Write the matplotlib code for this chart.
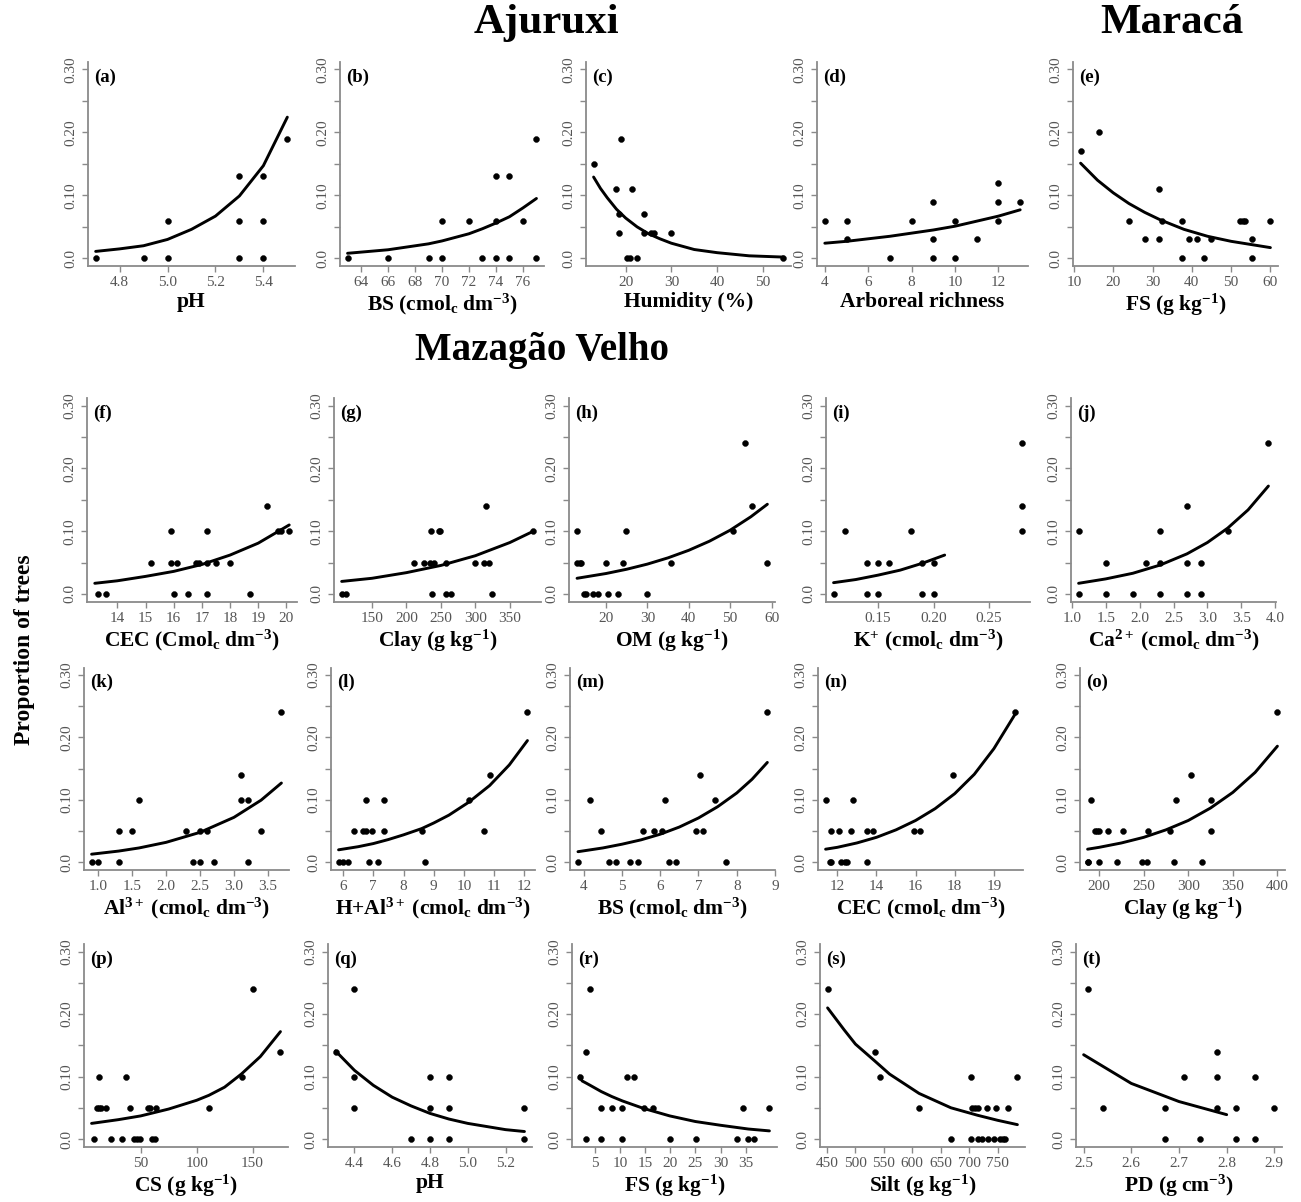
import matplotlib
matplotlib.use('Agg')
import matplotlib.pyplot as plt

plt.rcParams['font.family'] = ['Liberation Serif', 'DejaVu Serif']
plt.rcParams['mathtext.fontset'] = 'custom'
plt.rcParams['mathtext.rm'] = 'Liberation Serif'
plt.rcParams['mathtext.bf'] = 'Liberation Serif:bold'
plt.rcParams['mathtext.it'] = 'Liberation Serif:italic'
plt.rcParams['mathtext.default'] = 'bf'

# ---------------- data ----------------
a_x = [4.7, 4.9, 5.0, 5.0, 5.3, 5.3, 5.3, 5.4, 5.4, 5.4, 5.5]
a_y = [0, 0, 0, 0.06, 0, 0.06, 0.13, 0, 0.06, 0.13, 0.19]
a_cx = [4.7, 4.8, 4.9, 5.0, 5.1, 5.2, 5.3, 5.4, 5.5]
a_cy = [0.011, 0.015, 0.020, 0.030, 0.046, 0.067, 0.099, 0.147, 0.224]

b_x = [63, 66, 69, 70, 70, 72, 73, 74, 74, 74, 75, 75, 76, 77, 77]
b_y = [0, 0, 0, 0, 0.06, 0.06, 0, 0, 0.06, 0.13, 0, 0.13, 0.06, 0, 0.19]
b_cx = [63, 66, 69, 70, 72, 73, 74, 75, 76, 77]
b_cy = [0.008, 0.0136, 0.023, 0.0276, 0.039, 0.047, 0.056, 0.066, 0.080, 0.095]

c_x = [13, 18, 18.5, 18.5, 19, 20.4, 20.9, 21.5, 22.5, 24, 24, 25.6, 26.1, 30, 54.5]
c_y = [0.15, 0.11, 0.07, 0.04, 0.19, 0, 0, 0.11, 0, 0.07, 0.04, 0.04, 0.04, 0.04, 0]
c_cx = [13, 14.5, 16, 18, 20, 22.5, 25, 27.5, 30, 35, 40, 47, 54.5]
c_cy = [0.129, 0.111, 0.096, 0.078, 0.064, 0.050, 0.039, 0.031, 0.024, 0.014, 0.009, 0.004, 0.002]

d_x = [4, 5, 5, 7, 8, 9, 9, 9, 10, 10, 11, 12, 12, 12, 13]
d_y = [0.06, 0.06, 0.03, 0, 0.06, 0.09, 0.03, 0, 0.06, 0, 0.03, 0.12, 0.09, 0.06, 0.09]
d_cx = [4, 5, 7, 8, 9, 10, 11, 12, 13]
d_cy = [0.024, 0.027, 0.035, 0.040, 0.045, 0.051, 0.059, 0.067, 0.077]

e_x = [11.7, 16.4, 24, 28, 31.6, 31.6, 32.5, 37.4, 37.4, 39.2, 41.2, 43.1, 45, 52.2, 53.1, 53.5, 55.3, 55.3, 60]
e_y = [0.17, 0.20, 0.06, 0.03, 0.11, 0.03, 0.06, 0.06, 0, 0.03, 0.03, 0, 0.03, 0.06, 0.06, 0.06, 0.03, 0, 0.06]
e_cx = [11.7, 16, 20, 24, 28, 32, 38, 44, 50, 56, 60]
e_cy = [0.151, 0.124, 0.104, 0.087, 0.073, 0.061, 0.046, 0.035, 0.027, 0.021, 0.017]

f_x = [13.3, 13.6, 15.2, 15.9, 15.9, 16.1, 16.0, 16.5, 16.8, 16.9, 17.2, 17.2, 17.2, 17.5, 18.0, 18.7, 19.3, 19.7, 19.8, 20.1]
f_y = [0, 0, 0.05, 0.10, 0.05, 0.05, 0, 0, 0.05, 0.05, 0.10, 0.05, 0, 0.05, 0.05, 0, 0.14, 0.10, 0.10, 0.10]
f_cx = [13.2, 14, 15, 16, 17, 18, 19, 20.1]
f_cy = [0.017, 0.021, 0.028, 0.036, 0.047, 0.062, 0.081, 0.110]

g_x = [106, 113, 211, 225, 234, 235, 237, 240, 247, 249, 258, 258, 265, 300, 313, 316, 319, 324, 384]
g_y = [0, 0, 0.05, 0.05, 0.05, 0.10, 0, 0.05, 0.10, 0.10, 0.05, 0, 0, 0.05, 0.05, 0.14, 0.05, 0, 0.10]
g_cx = [106, 150, 200, 250, 300, 350, 384]
g_cy = [0.020, 0.025, 0.034, 0.0455, 0.061, 0.082, 0.100]

h_x = [12.9, 13.0, 13.6, 14.0, 14.7, 15.2, 16.9, 18.1, 20.0, 20.6, 22.8, 24.0, 24.8, 29.8, 35.6, 50.8, 53.5, 55.2, 58.8]
h_y = [0.10, 0.05, 0.05, 0.05, 0, 0, 0, 0, 0.05, 0, 0, 0.05, 0.10, 0, 0.05, 0.10, 0.24, 0.14, 0.05]
h_cx = [13, 20, 25, 30, 35, 40, 45, 50, 55, 59]
h_cy = [0.025, 0.0326, 0.0394, 0.0476, 0.0576, 0.0696, 0.0841, 0.1016, 0.123, 0.143]

i_x = [0.11, 0.12, 0.14, 0.15, 0.16, 0.14, 0.15, 0.18, 0.19, 0.20, 0.19, 0.20, 0.28, 0.28, 0.28]
i_y = [0, 0.10, 0.05, 0.05, 0.05, 0, 0, 0.10, 0.05, 0.05, 0, 0, 0.24, 0.14, 0.10]
i_cx = [0.11, 0.13, 0.15, 0.17, 0.19, 0.21]
i_cy = [0.018, 0.023, 0.030, 0.038, 0.049, 0.062]

j_x = [1.1, 1.1, 1.5, 1.5, 1.9, 2.1, 2.3, 2.3, 2.3, 2.7, 2.7, 2.7, 2.9, 2.9, 3.3, 3.9]
j_y = [0.10, 0, 0.05, 0, 0, 0.05, 0.10, 0.05, 0, 0.14, 0.05, 0, 0.05, 0, 0.10, 0.24]
j_cx = [1.1, 1.5, 1.9, 2.3, 2.7, 3.0, 3.3, 3.6, 3.9]
j_cy = [0.017, 0.024, 0.033, 0.046, 0.064, 0.082, 0.105, 0.134, 0.172]

k_x = [0.9, 1.0, 1.3, 1.3, 1.5, 1.6, 2.3, 2.4, 2.5, 2.5, 2.6, 2.7, 3.1, 3.1, 3.2, 3.2, 3.4, 3.7]
k_y = [0, 0, 0, 0.05, 0.05, 0.10, 0.05, 0, 0, 0.05, 0.05, 0, 0.14, 0.10, 0.10, 0, 0.05, 0.24]
k_cx = [0.9, 1.3, 1.6, 2.0, 2.5, 3.0, 3.4, 3.7]
k_cy = [0.013, 0.018, 0.023, 0.032, 0.048, 0.072, 0.0995, 0.127]

l_x = [5.85, 6.0, 6.15, 6.35, 6.65, 6.75, 6.75, 6.85, 6.95, 7.15, 7.35, 7.35, 8.6, 8.7, 10.15, 10.65, 10.85, 12.1]
l_y = [0, 0, 0, 0.05, 0.05, 0.05, 0.10, 0, 0.05, 0, 0.10, 0.05, 0.05, 0, 0.10, 0.05, 0.14, 0.24]
l_cx = [5.85, 6.5, 7.0, 7.5, 8.0, 8.6, 9.0, 9.5, 10.15, 10.85, 11.5, 12.1]
l_cy = [0.020, 0.025, 0.030, 0.0365, 0.044, 0.054, 0.063, 0.0755, 0.096, 0.123, 0.156, 0.195]

m_x = [3.84, 4.16, 4.45, 4.65, 4.85, 5.22, 5.43, 5.55, 5.84, 6.04, 6.13, 6.24, 6.42, 6.94, 7.03, 7.13, 7.42, 7.72, 8.8]
m_y = [0, 0.10, 0.05, 0, 0, 0, 0, 0.05, 0.05, 0.05, 0.10, 0, 0, 0.05, 0.14, 0.05, 0.10, 0, 0.24]
m_cx = [3.85, 4.5, 5.0, 5.5, 6.0, 6.5, 7.0, 7.5, 8.0, 8.4, 8.8]
m_cy = [0.017, 0.023, 0.029, 0.036, 0.045, 0.0565, 0.071, 0.089, 0.111, 0.133, 0.160]

n_x = [11.4, 11.6, 11.7, 11.7, 12.1, 12.2, 12.4, 12.5, 12.7, 12.8, 13.5, 13.5, 13.8, 15.9, 16.2, 17.9, 21.1]
n_y = [0.10, 0, 0, 0.05, 0.05, 0, 0, 0, 0.05, 0.10, 0, 0.05, 0.05, 0.05, 0.05, 0.14, 0.24]
n_cx = [11.4, 12, 13, 14, 15, 16, 17, 18, 19, 20, 21.1]
n_cy = [0.021, 0.024, 0.031, 0.040, 0.052, 0.067, 0.086, 0.110, 0.141, 0.182, 0.238]

o_x = [187, 188, 191, 195, 198, 200, 200, 210, 220, 227, 248, 254, 255, 279, 284, 286, 303, 315, 326, 326, 400]
o_y = [0, 0, 0.10, 0.05, 0.05, 0.05, 0, 0.05, 0, 0.05, 0, 0, 0.05, 0.05, 0, 0.10, 0.14, 0, 0.10, 0.05, 0.24]
o_cx = [187, 200, 225, 250, 275, 300, 325, 350, 375, 400]
o_cy = [0.021, 0.024, 0.031, 0.040, 0.052, 0.067, 0.087, 0.112, 0.144, 0.186]

p_x = [8.5, 10.8, 13.1, 14.6, 13.1, 19, 23.3, 33.5, 37, 40.5, 44.3, 46.4, 49.3, 56.9, 58.3, 60.3, 62.4, 63.3, 111.4, 140.5, 150.7, 174.6]
p_y = [0, 0.05, 0.05, 0.05, 0.10, 0.05, 0, 0, 0.10, 0.05, 0, 0, 0, 0.05, 0.05, 0, 0, 0.05, 0.05, 0.10, 0.24, 0.14]
p_cx = [6, 30, 50, 75, 100, 111, 125, 140, 157, 175]
p_cy = [0.025, 0.031, 0.037, 0.048, 0.062, 0.070, 0.083, 0.104, 0.132, 0.172]

q_x = [4.3, 4.4, 4.4, 4.4, 4.7, 4.8, 4.8, 4.8, 4.9, 4.9, 4.9, 5.3, 5.3]
q_y = [0.14, 0.24, 0.10, 0.05, 0, 0.10, 0.05, 0, 0.10, 0.05, 0, 0.05, 0]
q_cx = [4.3, 4.4, 4.5, 4.6, 4.7, 4.8, 4.9, 5.0, 5.1, 5.2, 5.3]
q_cy = [0.141, 0.110, 0.086, 0.067, 0.053, 0.041, 0.032, 0.025, 0.020, 0.015, 0.012]

r_x = [2.0, 3.2, 3.2, 4.1, 6.3, 6.3, 8.4, 10.5, 10.5, 11.4, 12.8, 14.7, 16.6, 19.9, 25.1, 33.3, 34.5, 35.5, 36.6, 39.7]
r_y = [0.10, 0, 0.14, 0.24, 0.05, 0, 0.05, 0.05, 0, 0.10, 0.10, 0.05, 0.05, 0, 0, 0, 0.05, 0, 0, 0.05]
r_cx = [2.0, 2.5, 3.2, 4.1, 6.3, 8.4, 10.5, 14.7, 19.9, 25, 30, 35.5, 39.7]
r_cy = [0.101, 0.093, 0.090, 0.086, 0.076, 0.068, 0.061, 0.049, 0.037, 0.028, 0.022, 0.016, 0.013]

s_x = [451, 534, 543, 612, 668, 703, 704, 705, 710, 715, 715, 723, 732, 733, 744, 748, 755, 759, 764, 768, 785]
s_y = [0.24, 0.14, 0.10, 0.05, 0, 0, 0.10, 0.05, 0.05, 0.05, 0, 0, 0.05, 0, 0, 0.05, 0, 0, 0, 0.05, 0.10]
s_cx = [451, 480, 500, 534, 560, 612, 668, 715, 750, 785]
s_cy = [0.21, 0.175, 0.152, 0.125, 0.104, 0.073, 0.050, 0.038, 0.030, 0.023]

t_x = [2.51, 2.54, 2.67, 2.67, 2.71, 2.745, 2.78, 2.78, 2.78, 2.82, 2.82, 2.86, 2.86, 2.90]
t_y = [0.24, 0.05, 0.05, 0, 0.10, 0, 0.05, 0.10, 0.14, 0.05, 0, 0.10, 0, 0.05]
t_cx = [2.5, 2.6, 2.7, 2.8]
t_cy = [0.135, 0.089, 0.060, 0.039]

panel_letters = list('abcdefghijklmnopqrst')
x_labels = [
    'pH', 'BS (cmol$_{c}$ dm$^{-3}$)', 'Humidity (%)', 'Arboreal richness', 'FS (g kg$^{-1}$)',
    'CEC (Cmol$_{c}$ dm$^{-3}$)', 'Clay (g kg$^{-1}$)', 'OM (g kg$^{-1}$)', 'K$^{+}$ (cmol$_{c}$ dm$^{-3}$)',
    'Ca$^{2+}$ (cmol$_{c}$ dm$^{-3}$)',
    'Al$^{3+}$ (cmol$_{c}$ dm$^{-3}$)', 'H+Al$^{3+}$ (cmol$_{c}$ dm$^{-3}$)', 'BS (cmol$_{c}$ dm$^{-3}$)',
    'CEC (cmol$_{c}$ dm$^{-3}$)', 'Clay (g kg$^{-1}$)',
    'CS (g kg$^{-1}$)', 'pH', 'FS (g kg$^{-1}$)', 'Silt (g kg$^{-1}$)', 'PD (g cm$^{-3}$)',
]
x_ticks = [
    [4.8, 5.0, 5.2, 5.4], [64, 66, 68, 70, 72, 74, 76], [20, 30, 40, 50], [4, 6, 8, 10, 12], [10, 20, 30, 40, 50, 60],
    [14, 15, 16, 17, 18, 19, 20], [150, 200, 250, 300, 350], [20, 30, 40, 50, 60], [0.15, 0.20, 0.25],
    [1.0, 1.5, 2.0, 2.5, 3.0, 3.5, 4.0],
    [1.0, 1.5, 2.0, 2.5, 3.0, 3.5], [6, 7, 8, 9, 10, 11, 12], [4, 5, 6, 7, 8, 9], [12, 14, 16, 18, 20],
    [200, 250, 300, 350, 400],
    [50, 100, 150], [4.4, 4.6, 4.8, 5.0, 5.2], [5, 10, 15, 20, 25, 30, 35], [450, 500, 550, 600, 650, 700, 750],
    [2.5, 2.6, 2.7, 2.8, 2.9],
]
x_tick_labels = [
    ['4.8', '5.0', '5.2', '5.4'], None, None, None, None,
    None, None, None, ['0.15', '0.20', '0.25'], ['1.0', '1.5', '2.0', '2.5', '3.0', '3.5', '4.0'],
    ['1.0', '1.5', '2.0', '2.5', '3.0', '3.5'], None, None, ['12', '14', '16', '18', '19'], None,
    None, ['4.4', '4.6', '4.8', '5.0', '5.2'], None, None, ['2.5', '2.6', '2.7', '2.8', '2.9'],
]
y_ticks = [0, 0.05, 0.10, 0.15, 0.20, 0.25, 0.30]
y_tick_labels = ['0.0', '', '0.10', '', '0.20', '', '0.30']

series = [
    (a_x, a_y, a_cx, a_cy), (b_x, b_y, b_cx, b_cy), (c_x, c_y, c_cx, c_cy), (d_x, d_y, d_cx, d_cy),
    (e_x, e_y, e_cx, e_cy), (f_x, f_y, f_cx, f_cy), (g_x, g_y, g_cx, g_cy), (h_x, h_y, h_cx, h_cy),
    (i_x, i_y, i_cx, i_cy), (j_x, j_y, j_cx, j_cy), (k_x, k_y, k_cx, k_cy), (l_x, l_y, l_cx, l_cy),
    (m_x, m_y, m_cx, m_cy), (n_x, n_y, n_cx, n_cy), (o_x, o_y, o_cx, o_cy), (p_x, p_y, p_cx, p_cy),
    (q_x, q_y, q_cx, q_cy), (r_x, r_y, r_cx, r_cy), (s_x, s_y, s_cx, s_cy), (t_x, t_y, t_cx, t_cy),
]

# ---------------- layout (pixels in a 1301 x 1202 canvas) ----------------
W, H = 1301, 1202
rows_px = [(61.7, 265.9), (398.2, 601.5), (667.5, 869.8), (944.2, 1146.5)]
cols_px = [
    [(88, 295), (340, 544), (586, 791), (817, 1028), (1073, 1278)],
    [(87, 297), (334, 541), (569, 775), (826, 1030), (1071, 1276)],
    [(84, 289), (331, 535), (570, 775), (818, 1023), (1080, 1285)],
    [(84, 288), (328, 532), (572, 777), (820, 1025), (1076, 1282)],
]
AXIS_COLOR = '#8a8a8a'
TICKLABEL_COLOR = '#555555'

fig = plt.figure(figsize=(W / 100, H / 100), dpi=100)
fig.patch.set_facecolor('white')

for idx, (xs, ys, cx, cy) in enumerate(series):
    r, c = divmod(idx, 5)
    top, bot = rows_px[r]
    left, right = cols_px[r][c]
    ax = fig.add_axes([left / W, 1 - bot / H, (right - left) / W, (bot - top) / H])
    allx = list(xs) + list(cx)
    lo, hi = min(allx), max(allx)
    pad = 0.04 * (hi - lo)
    ax.set_xlim(lo - pad, hi + pad)
    ax.set_ylim(-0.012, 0.312)
    ax.plot(cx, cy, color='black', lw=2.1, solid_capstyle='round', solid_joinstyle='round', zorder=2)
    ax.plot(xs, ys, 'o', ms=4.3, color='black', mec='black', mew=0.3, zorder=3, clip_on=False)

    for side in ('top', 'right'):
        ax.spines[side].set_visible(False)
    for side in ('left', 'bottom'):
        ax.spines[side].set_color(AXIS_COLOR)
        ax.spines[side].set_linewidth(1.3)

    ax.set_yticks(y_ticks)
    ax.set_yticklabels(y_tick_labels, rotation=90, va='center')
    ax.set_xticks(x_ticks[idx])
    if x_tick_labels[idx] is not None:
        ax.set_xticklabels(x_tick_labels[idx])
    else:
        ax.set_xticklabels([str(v) for v in x_ticks[idx]])
    ax.tick_params(direction='out', length=4, width=1.0, color=AXIS_COLOR,
                   labelsize=11, labelcolor=TICKLABEL_COLOR, pad=3.5)
    ax.set_xlabel(x_labels[idx], fontsize=15.5, fontweight='bold', labelpad=2)
    ax.text(0.03, 0.925, '(' + panel_letters[idx] + ')', transform=ax.transAxes,
            fontsize=13.5, fontweight='bold', ha='left', va='center')

fig.text(546 / W, 1 - 33 / H, 'Ajuruxi', ha='center', va='baseline', fontsize=31, fontweight='bold')
fig.text(1172 / W, 1 - 33 / H, 'Maracá', ha='center', va='baseline', fontsize=31, fontweight='bold')
fig.text(542 / W, 1 - 360 / H, 'Mazagão Velho', ha='center', va='baseline', fontsize=28, fontweight='bold')
fig.text(25 / W, 1 - 650 / H, 'Proportion of trees', rotation=90, ha='center', va='center',
         fontsize=17, fontweight='bold')

fig.savefig('out.png', dpi=100, facecolor='white')
